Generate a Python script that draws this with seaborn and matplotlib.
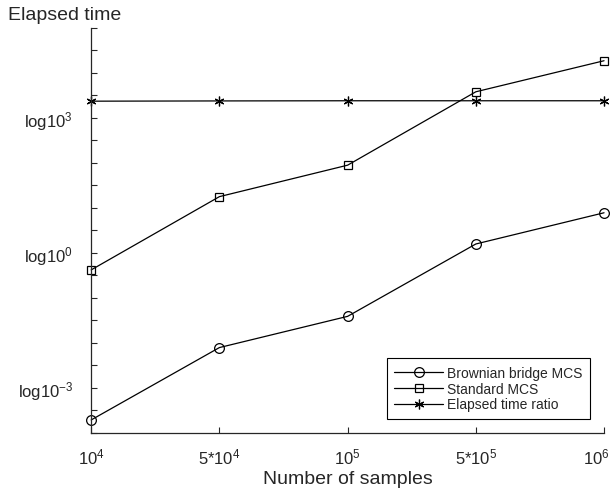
import numpy as np
import pandas as pd
import matplotlib
matplotlib.use('Agg')
import matplotlib.pyplot as plt
import matplotlib.transforms as mtransforms
import seaborn as sns

# data (elapsed time, log scale)
x_labels = ['$\\mathregular{10^{4}}$', '$\\mathregular{5{*}10^{4}}$', '$\\mathregular{10^{5}}$',
            '$\\mathregular{5{*}10^{5}}$', '$\\mathregular{10^{6}}$']
x_pos = [1, 2, 3, 4, 5]
brownian = [1.95e-4, 7.9e-3, 3.9e-2, 1.58, 7.8]
standard = [0.42, 17.8, 89, 3800, 18600]
ratio = [2350, 2380, 2400, 2400, 2400]

sns.set_style('white')
plt.rcParams['font.family'] = ['Liberation Sans', 'DejaVu Sans']
plt.rcParams['mathtext.fontset'] = 'custom'
plt.rcParams['mathtext.rm'] = 'Liberation Sans'

fig = plt.figure(figsize=(6.12, 4.89), dpi=100)
ax = fig.add_axes([0.149, 0.1125, 0.838, 0.8285])

common = dict(color='k', linewidth=0.9, markerfacecolor='none', markeredgecolor='k',
              markeredgewidth=0.9, clip_on=False)
sns.lineplot(x=x_pos, y=brownian, marker='o', markersize=7, label='Brownian bridge MCS', ax=ax, **common)
sns.lineplot(x=x_pos, y=standard, marker='s', markersize=6, label='Standard MCS', ax=ax, **common)
sns.lineplot(x=x_pos, y=ratio, marker=(6, 2, 0), markersize=7, label='Elapsed time ratio', ax=ax, **common)

ax.set_yscale('log')
ax.set_xlim(1, 5)
ax.set_ylim(1e-4, 1e5)
ax.set_xticks(x_pos)
ax.set_xticklabels(x_labels, fontsize=12)

yt = [10 ** (k / 2) for k in range(-8, 11)]
ylab = []
for k in range(-8, 11):
    if k in (-6, 0, 6):
        ylab.append('log$\\mathregular{10^{%d}}$' % (k // 2))
    else:
        ylab.append('')
ax.set_yticks(yt)
ax.set_yticklabels(ylab, fontsize=12)
ax.minorticks_off()
ax.tick_params(direction='in', length=4, width=0.8, color='#262626', bottom=True, left=True)
ax.tick_params(axis='y', pad=13)
ax.tick_params(axis='x', pad=10)

for s in ['top', 'right']:
    ax.spines[s].set_visible(False)
for s in ['left', 'bottom']:
    ax.spines[s].set_color('#262626')
    ax.spines[s].set_linewidth(0.9)

ax.set_xlabel('Number of samples', fontsize=14, labelpad=2)
ax.set_ylabel('')
fig.text(0.013, 1 - 16 / 489, 'Elapsed time', fontsize=14, ha='left', va='center')

leg = ax.legend(loc='lower right', fontsize=10, fancybox=False, edgecolor='k', framealpha=1,
                handlelength=3.5, handletextpad=0.3, labelspacing=0.12, borderpad=0.55,
                borderaxespad=1.0)
leg.get_frame().set_linewidth(0.8)

# last x label sits against the figure edge, nudge it left a bit
fig.canvas.draw()
last = ax.xaxis.get_major_ticks()[-1].label1
last.set_transform(last.get_transform() + mtransforms.ScaledTranslation(-8 / 100, 0, fig.dpi_scale_trans))

fig.savefig('out.png', dpi=100)
